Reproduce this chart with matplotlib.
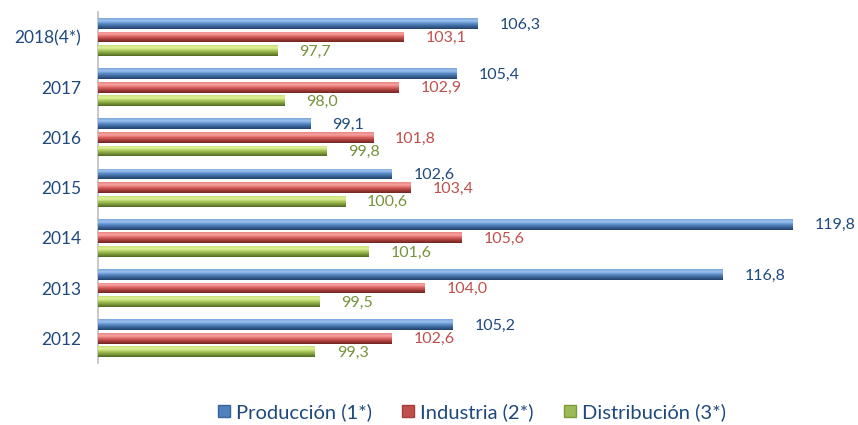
import matplotlib.pyplot as plt
import numpy as np
from matplotlib.colors import LinearSegmentedColormap
from matplotlib.patches import Patch

years = ["2012", "2013", "2014", "2015", "2016", "2017", "2018(4*)"]
produccion = [105.2, 116.8, 119.8, 102.6, 99.1, 105.4, 106.3]
industria = [102.6, 104.0, 105.6, 103.4, 101.8, 102.9, 103.1]
distribucion = [99.3, 99.5, 101.6, 100.6, 99.8, 98.0, 97.7]
series_names = ["Producción (1*)", "Industria (2*)", "Distribución (3*)"]

plt.rcParams['font.family'] = ['Lato', 'DejaVu Sans']

# bottom -> top gradient of each bar, base colour, text colour
styles = [
    (["#22406a", "#3a6397", "#5a8bc8", "#9cc1ee", "#7aa6dc"], "#4f81bd", "#1f497d"),
    (["#6e2522", "#a43c39", "#d9615e", "#f7a3a1", "#e98683"], "#c0504d", "#c0504d"),
    (["#4f6a22", "#7c9a3a", "#a8c95a", "#e2f09a", "#c9e07a"], "#9bbb59", "#77933c"),
]

x0 = 90
pitch = 0.27
height = 0.215

fig = plt.figure(figsize=(8.58, 4.25), dpi=100)
ax = fig.add_axes([0.114, 0.145, 0.815, 0.827])

y = np.arange(len(years))
grad = np.linspace(0, 1, 64).reshape(-1, 1)
for k, vals in enumerate([produccion, industria, distribucion]):
    cols, base, tcol = styles[k]
    cmap = LinearSegmentedColormap.from_list("g%d" % k, cols)
    ypos = y + pitch * (1 - k)
    bars = ax.barh(ypos, np.array(vals) - x0, left=x0, height=height,
                   color=base, edgecolor="none", zorder=2)
    for b, v, yy in zip(bars, vals, ypos):
        im = ax.imshow(grad, cmap=cmap, origin="lower", aspect="auto",
                       extent=(x0, v, yy - height / 2, yy + height / 2), zorder=3)
        im.set_clip_path(b)
        ax.text(v + 0.95, yy - 0.02, ("%.1f" % v).replace(".", ","),
                color=tcol, fontsize=11.5, va="center", ha="left", clip_on=False)

ax.set_xlim(x0, 120)
ax.set_ylim(-0.5, len(years) - 0.5)
ax.set_yticks(y)
ax.set_yticklabels(years, color="#1f497d", fontsize=12.5)
ax.tick_params(axis="y", length=0, pad=12)
ax.set_xticks([])
for s in ["top", "right", "bottom"]:
    ax.spines[s].set_visible(False)
ax.spines["left"].set_color("#bfbfbf")
ax.spines["left"].set_linewidth(1.2)

handles = [Patch(facecolor=st[1], edgecolor=st[0][1]) for st in styles]
leg = fig.legend(handles, series_names, loc="center", bbox_to_anchor=(0.55, 0.03),
                 ncol=3, frameon=False, fontsize=14.5, handlelength=0.6,
                 handleheight=0.6, handletextpad=0.3, columnspacing=1.5)
for t, st in zip(leg.get_texts(), styles):
    t.set_color("#1f497d")

fig.savefig("out.png", dpi=100)
